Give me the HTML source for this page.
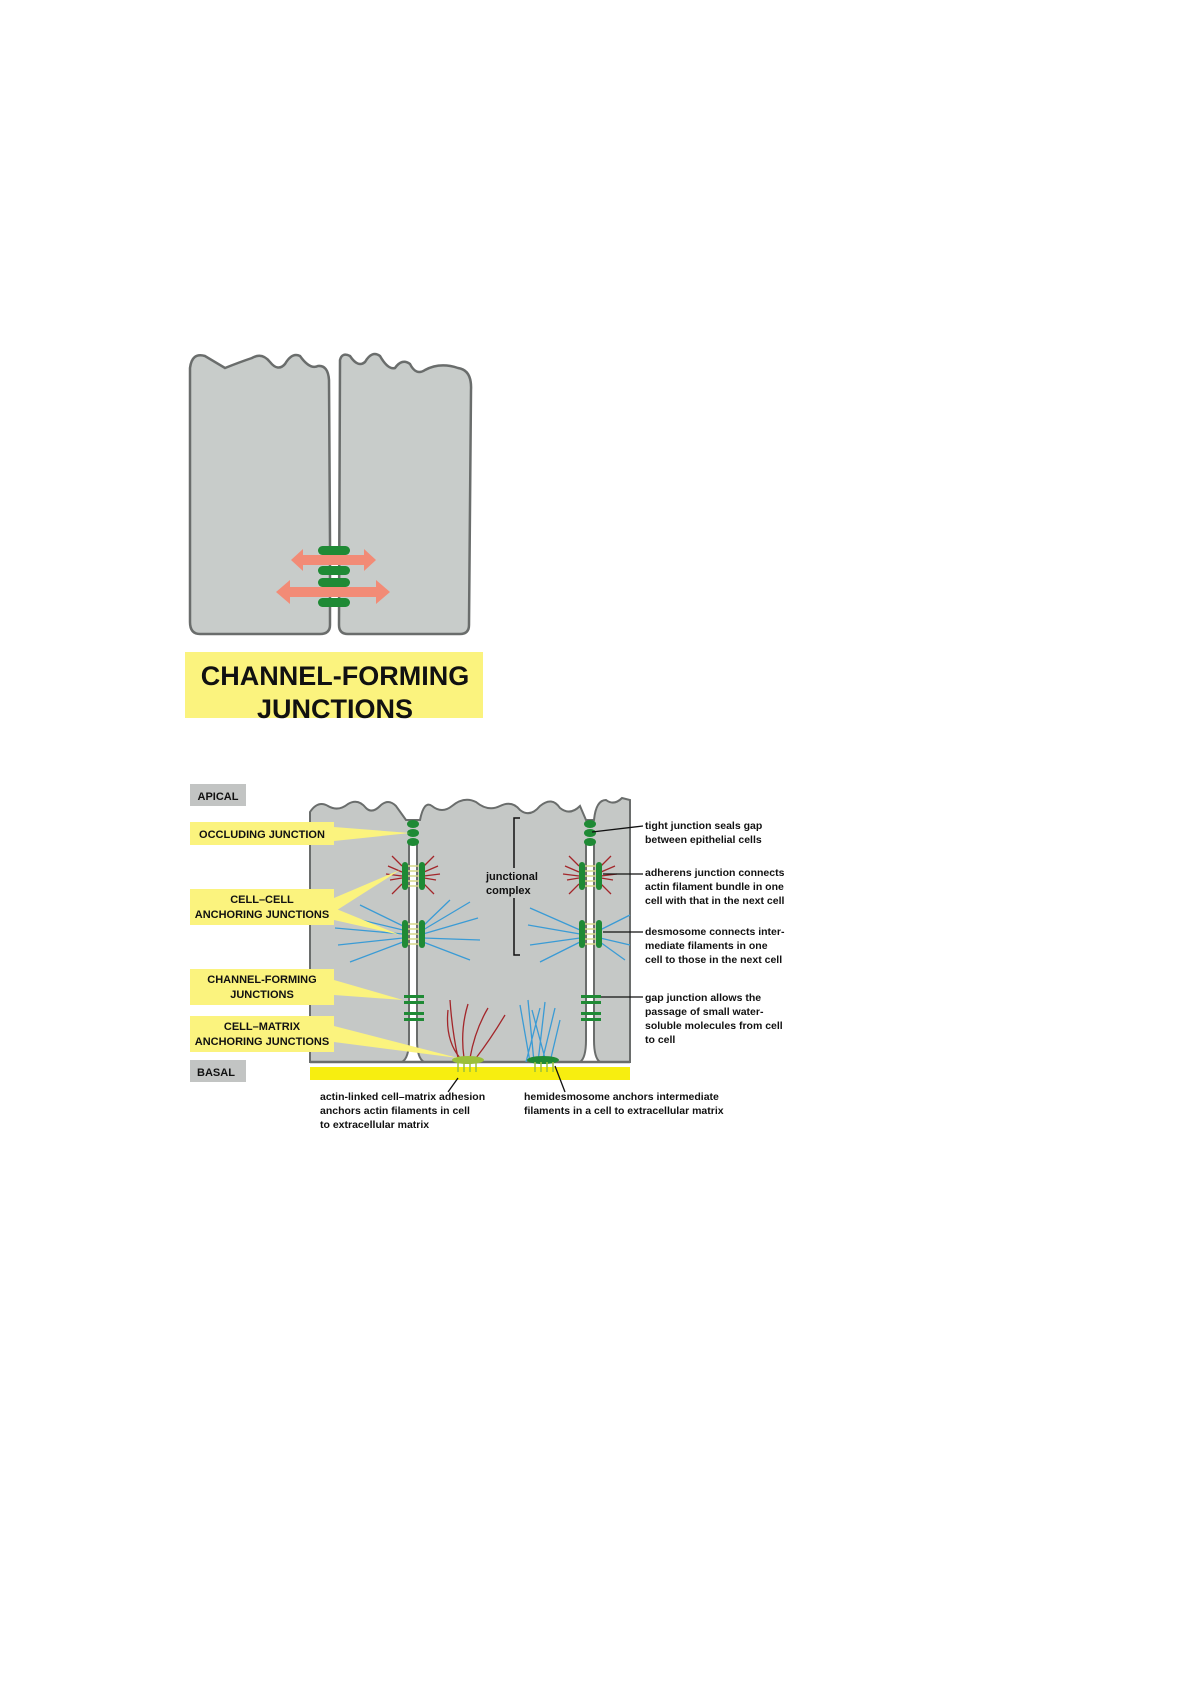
<!DOCTYPE html>
<html><head><meta charset="utf-8"><style>
html,body{margin:0;padding:0;background:#fff;width:1192px;height:1686px;overflow:hidden}
svg{display:block}
text{font-family:"Liberation Sans",sans-serif;font-weight:bold;fill:#111}
</style></head><body>
<svg width="1192" height="1686" viewBox="0 0 1192 1686">
<!-- TOP DIAGRAM -->
<path d="M190,368 Q192,352 205,356 Q215,362 225,368 Q240,362 252,358 Q262,352 270,362 Q278,372 285,364 Q292,352 300,356 Q310,370 318,366 Q328,365 329,380 L330,540 L330,625 Q330,634 320,634 L200,634 Q190,634 190,622 Z" fill="#c8ccca" stroke="#6a6d6c" stroke-width="2.5"/>
<path d="M340,360 Q342,352 350,356 Q358,368 365,362 Q372,350 380,356 Q388,370 395,368 Q402,358 410,364 Q416,376 425,370 Q440,362 458,368 Q472,370 471,390 L469,625 Q469,634 460,634 L348,634 Q339,634 339,625 Z" fill="#c8ccca" stroke="#6a6d6c" stroke-width="2.5"/>
<g fill="#f28b76">
<polygon points="291,560 303,549 303,555 364,555 364,549 376,560 364,571 364,565 303,565 303,571"/>
<polygon points="276,592 290,580 290,587 376,587 376,580 390,592 376,604 376,597 290,597 290,604"/>
</g>
<g fill="#1f8a35">
<rect x="318" y="546" width="32" height="9" rx="4.5"/>
<rect x="318" y="566" width="32" height="9" rx="4.5"/>
<rect x="318" y="578" width="32" height="9" rx="4.5"/>
<rect x="318" y="598" width="32" height="9" rx="4.5"/>
</g>
<rect x="185" y="652" width="298" height="66" fill="#fbf37e"/>
<text x="335" y="685" font-size="27" text-anchor="middle">CHANNEL-FORMING</text>
<text x="335" y="718" font-size="27" text-anchor="middle">JUNCTIONS</text>

<!-- BOTTOM DIAGRAM -->
<path d="M310,812 Q318,800 328,806 Q338,812 348,804 Q358,798 366,808 Q372,814 380,806 Q388,798 396,806 L406,820 L420,820 Q424,800 432,806 Q442,814 452,806 Q464,796 476,802 Q488,812 500,806 Q512,800 520,810 Q530,818 540,806 Q552,796 560,808 Q570,816 580,806 L586,820 L594,820 Q596,800 606,800 Q614,806 622,798 L630,800 L630,1062 L310,1062 Z" fill="#c5c8c6" stroke="#6a6d6c" stroke-width="2"/>
<!-- intercellular gaps -->
<path d="M409,842 L409,1040 Q409,1058 402,1062 L424,1062 Q417,1058 417,1040 L417,842 Z" fill="#fff" stroke="#6a6d6c" stroke-width="2"/>
<path d="M586,842 L586,1040 Q586,1058 580,1062 L600,1062 Q594,1058 594,1040 L594,842 Z" fill="#fff" stroke="#6a6d6c" stroke-width="2"/>
<line x1="310" y1="1062" x2="630" y2="1062" stroke="#6a6d6c" stroke-width="2.5"/>
<rect x="310" y="1067" width="320" height="13" fill="#f7ee10"/>
<!-- tight junctions -->
<g fill="#1f8a35">
<ellipse cx="413" cy="824" rx="6" ry="4"/><ellipse cx="413" cy="833" rx="6" ry="4"/><ellipse cx="413" cy="842" rx="6" ry="4"/>
<ellipse cx="590" cy="824" rx="6" ry="4"/><ellipse cx="590" cy="833" rx="6" ry="4"/><ellipse cx="590" cy="842" rx="6" ry="4"/>
</g>
<!-- adherens -->
<g stroke="#a3262a" stroke-width="1.3" fill="none">
<path d="M402,866 L392,856 M402,872 L388,866 M402,878 L390,880 M402,884 L392,894 M402,876 L386,874 M424,866 L434,856 M424,872 L438,866 M424,878 L436,880 M424,884 L434,894 M424,876 L440,874"/>
<path d="M579,866 L569,856 M579,872 L565,866 M579,878 L567,880 M579,884 L569,894 M579,876 L563,874 M601,866 L611,856 M601,872 L615,866 M601,878 L613,880 M601,884 L611,894 M601,876 L617,874"/>
</g>
<!-- intermediate filaments -->
<g stroke="#3a9bd5" stroke-width="1.3" fill="none">
<path d="M403,930 L340,915 M403,934 L335,928 M403,938 L338,945 M403,942 L350,962 M403,926 L360,905 M423,930 L470,902 M423,934 L478,918 M423,938 L480,940 M423,942 L470,960 M423,926 L450,900"/>
<path d="M580,930 L530,908 M580,934 L528,925 M580,938 L530,945 M580,942 L540,962 M600,930 L630,915 M600,938 L630,945 M600,942 L625,960"/>
<path d="M530,1062 L520,1005 M534,1062 L528,1000 M538,1062 L545,1002 M542,1062 L555,1008 M546,1062 L532,1010 M550,1062 L560,1020 M526,1062 L540,1008"/>
</g>
<g fill="#1f8a35">
<rect x="402" y="862" width="6" height="28" rx="3"/><rect x="419" y="862" width="6" height="28" rx="3"/>
<rect x="402" y="920" width="6" height="28" rx="3"/><rect x="419" y="920" width="6" height="28" rx="3"/>
<rect x="579" y="862" width="6" height="28" rx="3"/><rect x="596" y="862" width="6" height="28" rx="3"/>
<rect x="579" y="920" width="6" height="28" rx="3"/><rect x="596" y="920" width="6" height="28" rx="3"/>
<rect x="404" y="995" width="20" height="3"/><rect x="404" y="1001" width="20" height="3"/><rect x="404" y="1012" width="20" height="3"/><rect x="404" y="1018" width="20" height="3"/>
<rect x="581" y="995" width="20" height="3"/><rect x="581" y="1001" width="20" height="3"/><rect x="581" y="1012" width="20" height="3"/><rect x="581" y="1018" width="20" height="3"/>
<ellipse cx="543" cy="1060" rx="16" ry="4"/>
</g>
<g stroke="#d7d98a" stroke-width="1.5">
<path d="M408,866 H419 M408,871 H419 M408,876 H419 M408,881 H419 M408,886 H419 M408,924 H419 M408,929 H419 M408,934 H419 M408,939 H419 M408,944 H419"/>
<path d="M585,866 H596 M585,871 H596 M585,876 H596 M585,881 H596 M585,886 H596 M585,924 H596 M585,929 H596 M585,934 H596 M585,939 H596 M585,944 H596"/>
</g>
<!-- actin adhesion -->
<g stroke="#a3262a" stroke-width="1.3" fill="none">
<path d="M458,1058 Q452,1030 450,1000 M464,1058 Q460,1030 468,1004 M470,1058 Q475,1030 488,1008 M476,1058 Q490,1040 505,1015 M460,1058 Q445,1040 448,1010"/>
</g>
<ellipse cx="468" cy="1060" rx="16" ry="4" fill="#9bbf3b"/>
<g stroke="#9bbf3b" stroke-width="1.5"><path d="M458,1062 V1072 M464,1062 V1072 M470,1062 V1072 M476,1062 V1072"/></g>
<g stroke="#9bbf3b" stroke-width="1.5"><path d="M535,1062 V1072 M541,1062 V1072 M547,1062 V1072 M553,1062 V1072"/></g>
<!-- yellow pointers -->
<g fill="#fbf37e">
<polygon points="334,827 410,833 334,841"/>
<polygon points="334,898 400,870 334,912"/>
<polygon points="334,908 400,935 334,920"/>
<polygon points="334,980 403,1000 334,995"/>
<polygon points="334,1026 458,1058 334,1042"/>
</g>
<rect x="190" y="784" width="56" height="22" fill="#c2c4c3"/><text x="218" y="800" font-size="11" text-anchor="middle">APICAL</text>
<rect x="190" y="822" width="144" height="23" fill="#fbf37e"/><text x="262" y="838" font-size="11" text-anchor="middle">OCCLUDING JUNCTION</text>
<rect x="190" y="889" width="144" height="36" fill="#fbf37e"/><text x="262" y="903" font-size="11" text-anchor="middle">CELL–CELL</text><text x="262" y="918" font-size="11" text-anchor="middle">ANCHORING JUNCTIONS</text>
<rect x="190" y="969" width="144" height="36" fill="#fbf37e"/><text x="262" y="983" font-size="11" text-anchor="middle">CHANNEL-FORMING</text><text x="262" y="998" font-size="11" text-anchor="middle">JUNCTIONS</text>
<rect x="190" y="1016" width="144" height="36" fill="#fbf37e"/><text x="262" y="1030" font-size="11" text-anchor="middle">CELL–MATRIX</text><text x="262" y="1045" font-size="11" text-anchor="middle">ANCHORING JUNCTIONS</text>
<rect x="190" y="1060" width="56" height="22" fill="#c2c4c3"/><text x="216" y="1076" font-size="11" text-anchor="middle">BASAL</text>
<!-- bracket -->
<path d="M520,818 H514 V868 M514,898 V955 H520" stroke="#111" stroke-width="1.5" fill="none"/>
<text x="486" y="880" font-size="11">junctional</text><text x="486" y="894" font-size="11">complex</text>
<!-- right leaders -->
<g stroke="#111" stroke-width="1.3"><path d="M592,832 L643,826 M603,874 H643 M603,932 H643 M601,997 H643 M458,1078 L448,1092 M555,1066 L565,1092"/></g>
<g font-size="10.5">
<text x="645" y="829">tight junction seals gap</text><text x="645" y="843">between epithelial cells</text>
<text x="645" y="876">adherens junction connects</text><text x="645" y="890">actin filament bundle in one</text><text x="645" y="904">cell with that in the next cell</text>
<text x="645" y="935">desmosome connects inter-</text><text x="645" y="949">mediate filaments in one</text><text x="645" y="963">cell to those in the next cell</text>
<text x="645" y="1001">gap junction allows the</text><text x="645" y="1015">passage of small water-</text><text x="645" y="1029">soluble molecules from cell</text><text x="645" y="1043">to cell</text>
<text x="320" y="1100">actin-linked cell–matrix adhesion</text><text x="320" y="1114">anchors actin filaments in cell</text><text x="320" y="1128">to extracellular matrix</text>
<text x="524" y="1100">hemidesmosome anchors intermediate</text><text x="524" y="1114">filaments in a cell to extracellular matrix</text>
</g>
</svg>
</body></html>
